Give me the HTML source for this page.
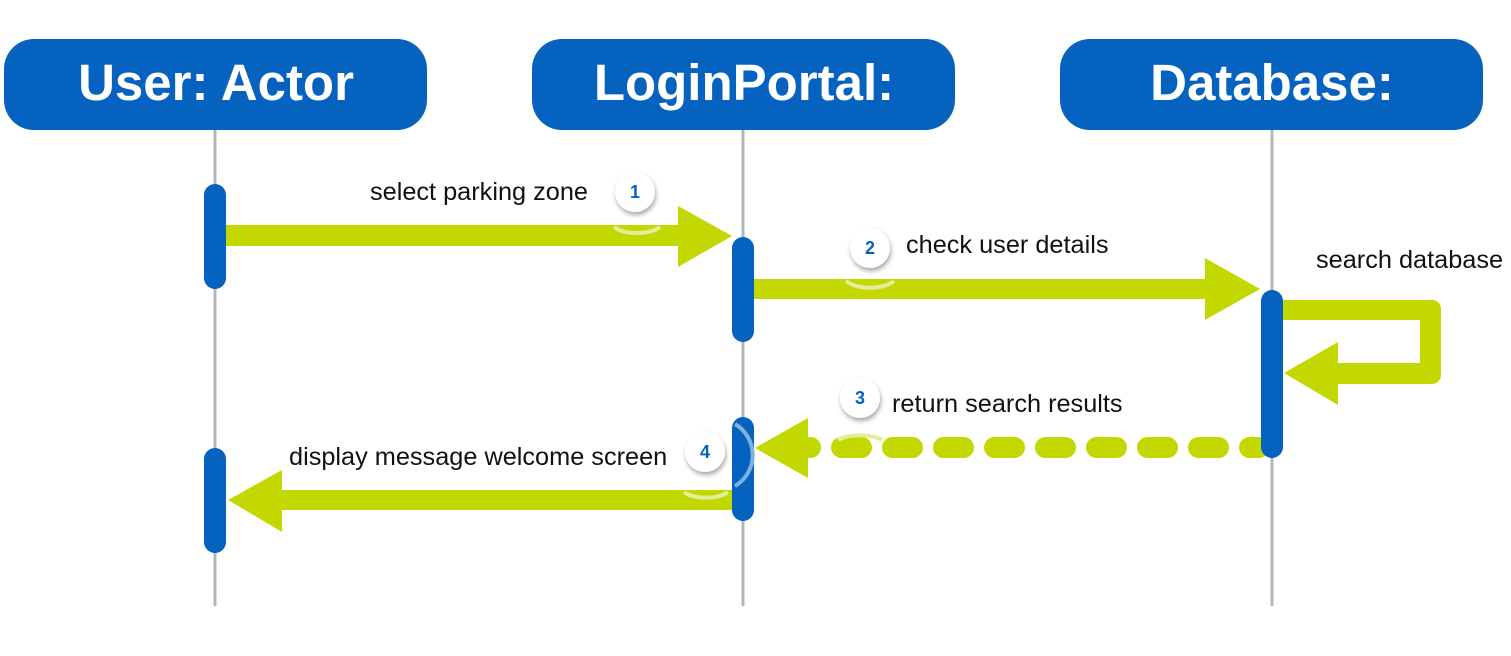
<!DOCTYPE html>
<html><head><meta charset="utf-8"><style>
html,body{margin:0;padding:0;background:#fff;width:1511px;height:656px;overflow:hidden}
svg{display:block}
text{font-family:"Liberation Sans",Arial,sans-serif}
</style></head><body>
<svg width="1511" height="656" viewBox="0 0 1511 656" xmlns="http://www.w3.org/2000/svg">
<defs>
<filter id="sh" x="-50%" y="-50%" width="200%" height="200%"><feDropShadow dx="1" dy="3" stdDeviation="2.5" flood-color="#000" flood-opacity="0.35"/></filter>
</defs>
<g stroke="#b5b5b5" stroke-width="3">
<line x1="215" y1="130" x2="215" y2="606"/>
<line x1="743" y1="130" x2="743" y2="606"/>
<line x1="1272" y1="130" x2="1272" y2="606"/>
</g>
<g fill="#0563bf">
<rect x="4" y="39" width="423" height="91" rx="30"/>
<rect x="532" y="39" width="423" height="91" rx="30"/>
<rect x="1060" y="39" width="423" height="91" rx="30"/>
</g>
<g fill="#fff" font-weight="bold" font-size="51" text-anchor="middle">
<text x="216" y="100">User: Actor</text>
<text x="744" y="100">LoginPortal:</text>
<text x="1272" y="100">Database:</text>
</g>
<g fill="#c2d800">
<rect x="220" y="225" width="462" height="21"/>
<polygon points="678,206 732,236 678,267"/>
<rect x="750" y="279" width="458" height="20"/>
<polygon points="1205,258 1260,289 1205,320"/>
<path d="M1280,300 H1432 a9,9 0 0 1 9,9 V375 a9,9 0 0 1 -9,9 H1336 V363 H1420 V320 H1280 Z"/>
<polygon points="1338,342 1284,373 1338,405"/>
<polygon points="808,418 755,448 808,478"/>
<rect x="282" y="490" width="455" height="20"/>
<polygon points="282,470 228,500 282,532"/>
<rect x="800" y="437" width="21" height="21" rx="10.5"/>
<rect x="831" y="437" width="41" height="21" rx="10.5"/>
<rect x="882" y="437" width="41" height="21" rx="10.5"/>
<rect x="933" y="437" width="41" height="21" rx="10.5"/>
<rect x="984" y="437" width="41" height="21" rx="10.5"/>
<rect x="1035" y="437" width="41" height="21" rx="10.5"/>
<rect x="1086" y="437" width="41" height="21" rx="10.5"/>
<rect x="1137" y="437" width="41" height="21" rx="10.5"/>
<rect x="1188" y="437" width="41" height="21" rx="10.5"/>
<rect x="1239" y="437" width="30" height="21" rx="10.5"/>
</g>
<g fill="none" stroke="#e2ee9a" stroke-width="4">
<path d="M614,227 a28,14 0 0 0 46,0"/>
<path d="M846,281 a28,14 0 0 0 48,0"/>
<path d="M838,440 a26,10 0 0 1 44,0"/>
<path d="M684,492 a26,12 0 0 0 44,0"/>
</g>
<g fill="#0563bf">
<rect x="204" y="184" width="22" height="105" rx="11"/>
<rect x="204" y="448" width="22" height="105" rx="11"/>
<rect x="732" y="237" width="22" height="105" rx="11"/>
<rect x="732" y="417" width="22" height="104" rx="11"/>
<rect x="1261" y="290" width="22" height="168" rx="11"/>
</g>
<path d="M735,424 a36,36 0 0 1 0,62" fill="none" stroke="#7fb0e0" stroke-width="4"/>
<g font-size="25.3" fill="#111">
<text x="370" y="200">select parking zone</text>
<text x="906" y="253">check user details</text>
<text x="1316" y="268">search database</text>
<text x="892" y="412">return search results</text>
<text x="289" y="465">display message welcome screen</text>
</g>
<g fill="#fff" filter="url(#sh)">
<circle cx="635" cy="192" r="20"/>
<circle cx="870" cy="248" r="20"/>
<circle cx="860" cy="398" r="20"/>
<circle cx="705" cy="452" r="20"/>
</g>
<g fill="#0563bf" font-weight="bold" font-size="18" text-anchor="middle">
<text x="635" y="198">1</text>
<text x="870" y="254">2</text>
<text x="860" y="404">3</text>
<text x="705" y="458">4</text>
</g>
</svg>
</body></html>
